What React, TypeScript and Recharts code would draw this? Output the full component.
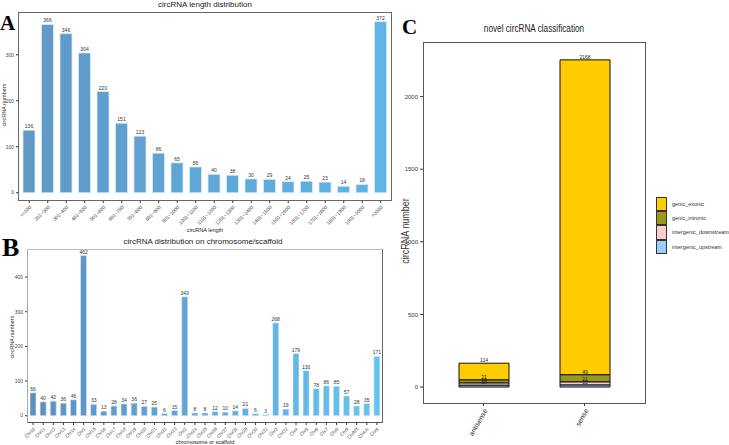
import { BarChart, Bar, XAxis, YAxis, Cell, LabelList } from "recharts";

// panel A: circRNA length distribution
const lengthBins = [
  "<=200", "201~300", "301~400", "401~500", "501~600", "601~700", "701~800",
  "801~900", "901~1000", "1001~1100", "1101~1200", "1201~1300", "1301~1400",
  "1401~1500", "1501~1600", "1601~1700", "1701~1800", "1801~1900", "1901~2000", ">2000",
];
const lengthCounts = [136, 366, 346, 304, 220, 151, 123, 86, 65, 56, 40, 38, 30, 29, 24, 25, 23, 14, 18, 372];

// panel B: circRNA per chromosome / scaffold
const chromosomes = [
  "Chr10", "Chr11", "Chr12", "Chr13", "Chr14", "Chr1", "Chr15", "Chr16", "Chr17", "Chr18",
  "Chr19", "Chr20", "Chr21", "Chr22", "Chr23", "Chr2", "Chr24", "Chr25", "Chr26", "Chr27",
  "Chr28", "Chr29", "Chr30", "Chr31", "Chr3", "Chr32", "Chr4", "Chr5", "Chr6", "Chr7",
  "Chr8", "Chr9", "ChrMT", "ChrUn", "ChrX",
];
const chromosomeCounts = [
  66, 40, 42, 36, 46, 462, 33, 13, 28, 34,
  36, 27, 25, 6, 15, 343, 8, 8, 12, 10,
  14, 21, 6, 3, 268, 19, 179, 130, 78, 86,
  85, 57, 28, 35, 171,
];

// panel C: novel circRNA classification
const strands = ["antisense", "sense"];
const genicExonic = [114, 2168];
const genicIntronic = [21, 49];
const intergenicDownstream = [16, 21];
const intergenicUpstream = [13, 15];
const classKeys = ["genic_exonic", "genic_intronic", "intergenic_downstream", "intergenic_upstream"];
const classColors = ["#FFCC00", "#999922", "#FFCCCC", "#99CCFF"];

const lenData = lengthBins.map((name, i) => ({ name, value: lengthCounts[i] }));
const chrData = chromosomes.map((name, i) => ({ name, value: chromosomeCounts[i] }));
const classData = strands.map((name, i) => ({
  name,
  genic_exonic: genicExonic[i],
  genic_intronic: genicIntronic[i],
  intergenic_downstream: intergenicDownstream[i],
  intergenic_upstream: intergenicUpstream[i],
}));

const SANS = "'Liberation Sans', Arial, sans-serif";

// blend two hex colours, t in 0..1 (left bars darker, right bars lighter)
function mix(a: string, b: string, t: number) {
  const pa = [1, 3, 5].map((k) => parseInt(a.slice(k, k + 2), 16));
  const pb = [1, 3, 5].map((k) => parseInt(b.slice(k, k + 2), 16));
  const c = pa.map((v, k) => Math.round(v + (pb[k] - v) * t));
  return "rgb(" + c.join(",") + ")";
}

function Centered({ x, y, size, squeeze = 1, children }: any) {
  return (
    <div style={{ position: "absolute", left: x, top: y, transform: `translateX(-50%) scaleX(${squeeze})`, fontSize: size, fontFamily: SANS, whiteSpace: "nowrap", lineHeight: 1, color: "#222" }}>
      {children}
    </div>
  );
}

function Vertical({ x, y, size, squeeze = 1, children }: any) {
  return (
    <div style={{ position: "absolute", left: x, top: y, transform: `translate(-50%,-50%) rotate(-90deg) scaleX(${squeeze})`, fontSize: size, fontFamily: SANS, whiteSpace: "nowrap", lineHeight: 1, color: "#333" }}>
      {children}
    </div>
  );
}

function Letter({ x, y, size, children }: any) {
  return (
    <div style={{ position: "absolute", left: x, top: y, fontSize: size, fontFamily: "'Liberation Serif', 'Times New Roman', serif", fontWeight: "bold", lineHeight: 1 }}>
      {children}
    </div>
  );
}

function Box({ left, top, width, height, border }: any) {
  return <div style={{ position: "absolute", left, top, width, height, boxSizing: "border-box", border, pointerEvents: "none" }} />;
}

export default function App() {
  const smallTick = { fontSize: 5, fill: "#444", fontFamily: SANS };
  return (
    <div style={{ position: "absolute", left: 0, top: 0, width: 729, height: 445, background: "#fff", fontFamily: SANS, overflow: "hidden" }}>
      {/* ---------- A ---------- */}
      <Letter x={0} y={13} size={21}>A</Letter>
      <Centered x={205} y={1} size={8}>circRNA length distribution</Centered>
      <Vertical x={5} y={105} size={5.5}>circRNA numbers</Vertical>
      <Centered x={205} y={228} size={5.5}>circRNA length</Centered>
      <div style={{ position: "absolute", left: 0, top: 0 }}>
        <BarChart width={400} height={231} data={lenData} margin={{ top: 12, right: 8, left: 0, bottom: 0 }}>
          <XAxis dataKey="name" interval={0} angle={-45} textAnchor="end" height={30} tickSize={2}
            tick={smallTick} axisLine={false} tickLine={{ stroke: "#333" }} padding={{ left: 2, right: 2 }} />
          <YAxis type="number" domain={[-18, 393]} ticks={[0, 100, 200, 300]} width={18} tickSize={2}
            tick={smallTick} axisLine={false} tickLine={{ stroke: "#333" }} allowDataOverflow />
          <Bar dataKey="value" barSize={12} isAnimationActive={false} stroke="#d6ebf8" strokeWidth={0.8}>
            {lenData.map((d, i) => (
              <Cell key={d.name} fill={mix("#6198c6", "#5db5e5", i / (lenData.length - 1))} />
            ))}
            <LabelList dataKey="value" position="top" offset={2} style={{ fontSize: 5, fill: "#333", fontFamily: SANS }} />
          </Bar>
        </BarChart>
      </div>
      <Box left={18} top={12} width={374} height={189} border="1px solid #666" />

      {/* ---------- B ---------- */}
      <Letter x={2} y={235} size={26}>B</Letter>
      <Centered x={203} y={238} size={8}>circRNA distribution on chromosome/scaffold</Centered>
      <Vertical x={13} y={337} size={5.5}>circRNA numbers</Vertical>
      <Centered x={205} y={439.5} size={5.5}>chromosome or scaffold</Centered>
      <div style={{ position: "absolute", left: 0, top: 240 }}>
        <BarChart width={390} height={205} data={chrData} margin={{ top: 9, right: 7, left: 0, bottom: 0 }}>
          <XAxis dataKey="name" interval={0} angle={-45} textAnchor="end" height={22} tickSize={2}
            tick={{ ...smallTick, fontSize: 4.6 }} axisLine={false} tickLine={{ stroke: "#333" }} padding={{ left: 1, right: 1 }} />
          <YAxis type="number" domain={[-21, 481]} ticks={[0, 100, 200, 300, 400]} width={27} tickSize={2}
            tick={smallTick} axisLine={false} tickLine={{ stroke: "#333" }} allowDataOverflow />
          <Bar dataKey="value" barSize={6} isAnimationActive={false} stroke="#d6ebf8" strokeWidth={0.6}>
            {chrData.map((d, i) => (
              <Cell key={d.name} fill={mix("#5d8fc1", "#66c3ef", i / (chrData.length - 1))} />
            ))}
            <LabelList dataKey="value" position="top" offset={2} style={{ fontSize: 5, fill: "#333", fontFamily: SANS }} />
          </Bar>
        </BarChart>
      </div>
      <div style={{ position: "absolute", left: 27, top: 249, width: 356, height: 174, boxSizing: "border-box", borderLeft: "1px solid #aaa", borderTop: "1px solid #bbb", borderRight: "1px solid #666", borderBottom: "1px solid #555" }} />

      {/* ---------- C ---------- */}
      <Letter x={402} y={17} size={21}>C</Letter>
      <Centered x={534} y={24} size={10} squeeze={0.82}>novel circRNA classification</Centered>
      <Vertical x={405} y={231} size={11} squeeze={0.82}>circRNA number</Vertical>
      <div style={{ position: "absolute", left: 400, top: 0 }}>
        <BarChart width={250} height={445} data={classData} margin={{ top: 42, right: 5, left: 0, bottom: 2 }}>
          <XAxis dataKey="name" interval={0} angle={-60} textAnchor="end" height={40} tickSize={3}
            tick={{ fontSize: 7, fill: "#333", fontFamily: SANS }} axisLine={false} tickLine={{ stroke: "#333" }}
            padding={{ left: 10, right: 10 }} />
          <YAxis type="number" domain={[-110, 2376]} ticks={[0, 500, 1000, 1500, 2000]} width={23} tickSize={3}
            tick={{ fontSize: 6, fill: "#333", fontFamily: SANS }} axisLine={false} tickLine={{ stroke: "#333" }} allowDataOverflow />
          {[...classKeys].reverse().map((key) => (
            <Bar key={key} dataKey={key} stackId="c" barSize={50} fill={classColors[classKeys.indexOf(key)]}
              stroke="#111" strokeWidth={1} isAnimationActive={false}>
              <LabelList dataKey={key} position="top" offset={1} style={{ fontSize: 5, fill: "#222", fontFamily: SANS }} />
            </Bar>
          ))}
        </BarChart>
      </div>
      <Box left={423} top={42} width={223} height={362} border="1px solid #555" />

      {/* legend */}
      <div style={{ position: "absolute", left: 656, top: 197 }}>
        {classKeys.map((key, i) => (
          <div key={key} style={{ display: "flex", alignItems: "center", height: 14.2 }}>
            <div style={{ width: 11, height: 14.2, boxSizing: "border-box", background: classColors[i], border: "1px solid #333" }} />
            <span style={{ marginLeft: 5, fontSize: 5.5, fontFamily: SANS, color: "#333", whiteSpace: "nowrap" }}>{key}</span>
          </div>
        ))}
      </div>
    </div>
  );
}
